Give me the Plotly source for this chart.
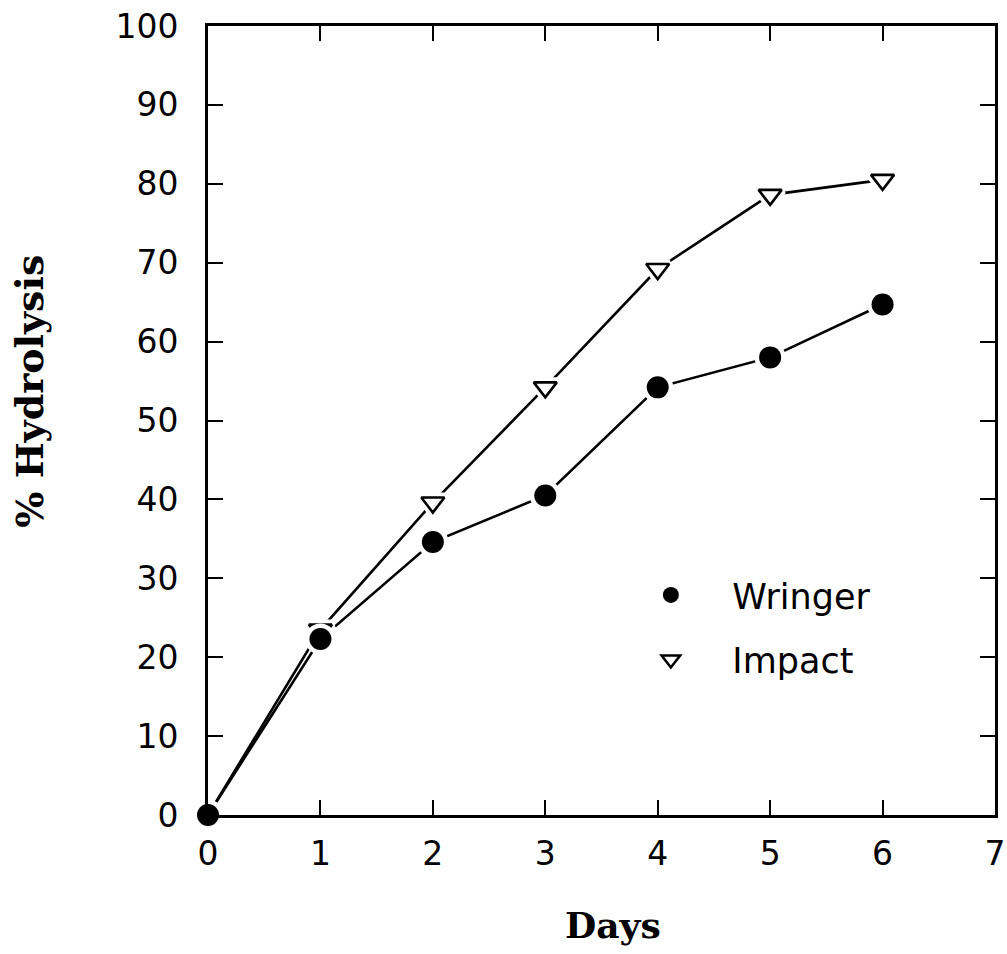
import plotly.graph_objects as go

# Hydrolysis over time for the two treatments
days = [0, 1, 2, 3, 4, 5, 6]
wringer = [0, 22.3, 34.6, 40.5, 54.2, 58.0, 64.7]
impact = [0, 23.5, 39.6, 54.2, 69.2, 78.6, 80.5]

x_ticks = [0, 1, 2, 3, 4, 5, 6, 7]
y_ticks = [0, 10, 20, 30, 40, 50, 60, 70, 80, 90, 100]

fig = go.Figure()

# connecting lines (drawn first so markers and their white halos sit on top)
for ys in (wringer, impact):
    fig.add_trace(go.Scatter(x=days, y=ys, mode="lines",
                             line=dict(color="black", width=2.6),
                             showlegend=False, hoverinfo="skip", cliponaxis=False))

# Impact: white halo then open down-triangles
fig.add_trace(go.Scatter(x=days, y=impact, mode="markers", showlegend=False,
                         marker=dict(symbol="triangle-down", size=20, color="white",
                                     line=dict(color="white", width=10)),
                         hoverinfo="skip", cliponaxis=False))
fig.add_trace(go.Scatter(x=days, y=impact, mode="markers", name="Impact",
                         legendgroup="impact", legendrank=2,
                         marker=dict(symbol="triangle-down", size=20, color="white",
                                     line=dict(color="black", width=2.6)),
                         cliponaxis=False))

# Wringer: white halo then filled circles
fig.add_trace(go.Scatter(x=days, y=wringer, mode="markers", showlegend=False,
                         marker=dict(symbol="circle", size=31, color="white",
                                     line=dict(width=0)),
                         hoverinfo="skip", cliponaxis=False))
fig.add_trace(go.Scatter(x=days, y=wringer, mode="markers", name="Wringer",
                         legendgroup="wringer", legendrank=1,
                         marker=dict(symbol="circle", size=22, color="black",
                                     line=dict(width=0)),
                         cliponaxis=False))

axis_common = dict(
    showline=True, linecolor="black", linewidth=2.6, mirror="ticks",
    ticks="inside", ticklen=15, tickwidth=2.4, tickcolor="black",
    showgrid=False, zeroline=False, automargin=False,
    tickfont=dict(family="DejaVu Sans", size=33, color="black"),
)

fig.update_xaxes(range=[0, 7], tickvals=x_ticks, ticktext=[str(v) for v in x_ticks],
                 ticklabelstandoff=8, **axis_common)
fig.update_yaxes(range=[0, 100], tickvals=y_ticks, ticktext=[str(v) for v in y_ticks],
                 ticklabelstandoff=20, **axis_common)

# axis titles
fig.add_annotation(text="<b>Days</b>", xref="paper", yref="paper",
                   x=0.515, y=-0.139, xanchor="center", yanchor="middle",
                   showarrow=False,
                   font=dict(family="DejaVu Serif", size=36, color="black"))
fig.add_annotation(text="<b>% Hydrolysis</b>", xref="paper", yref="paper",
                   x=-0.227, y=0.537, xanchor="center", yanchor="middle",
                   showarrow=False, textangle=-90,
                   font=dict(family="DejaVu Serif", size=38, color="black"))

fig.update_layout(
    width=1007, height=954,
    margin=dict(l=208, r=12, t=26, b=139),
    paper_bgcolor="white", plot_bgcolor="white",
    legend=dict(x=0.51, y=0.316, xanchor="left", yanchor="top",
                traceorder="grouped", bgcolor="rgba(0,0,0,0)",
                font=dict(family="DejaVu Sans", size=35, color="black"),
                itemwidth=113, tracegroupgap=16),
)

fig.write_html("out.html")
